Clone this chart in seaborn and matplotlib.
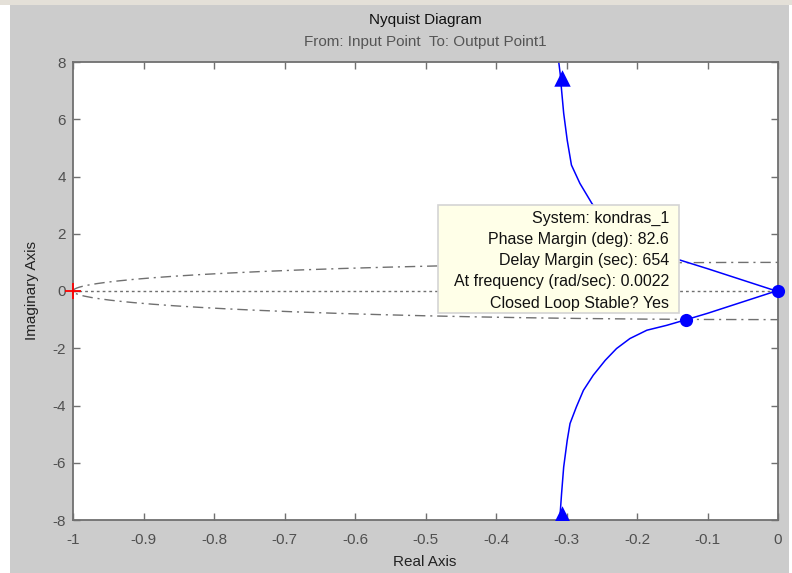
import numpy as np
import pandas as pd
import matplotlib
matplotlib.use("Agg")
import matplotlib.pyplot as plt
import matplotlib.patches as mpatches
import seaborn as sns

# ---- data ----
# upper branch (from top of the plot down to the origin)
upper_re = [-0.312, -0.309, -0.307, -0.304, -0.299, -0.293, -0.281, -0.264, -0.245, -0.229,
            -0.210, -0.186, -0.158, -0.139, -0.100, -0.050, -0.010, 0.0]
upper_im = [8.2, 7.60, 7.02, 6.21, 5.27, 4.40, 3.76, 3.06, 2.42, 2.01,
            1.66, 1.37, 1.20, 1.08, 0.78, 0.38, 0.06, 0.0]
# lower branch (from the origin down to the bottom)
lower_re = [0.0, -0.010, -0.050, -0.100, -0.130, -0.158, -0.186, -0.210, -0.229, -0.245,
            -0.262, -0.276, -0.286, -0.295, -0.299, -0.304, -0.307, -0.309, -0.310]
lower_im = [0.0, -0.06, -0.38, -0.78, -1.00, -1.20, -1.37, -1.66, -2.01, -2.42,
            -2.94, -3.47, -4.05, -4.63, -5.22, -6.15, -7.08, -7.78, -8.2]

arrow_re = [-0.307, -0.307]
arrow_im = [7.45, -7.78]
dot_re = [0.0, -0.130]
dot_im = [0.0, -1.00]

xticks = [-1, -0.9, -0.8, -0.7, -0.6, -0.5, -0.4, -0.3, -0.2, -0.1, 0]
xticklabels = ["-1", "-0.9", "-0.8", "-0.7", "-0.6", "-0.5", "-0.4", "-0.3", "-0.2", "-0.1", "0"]
yticks = [-8, -6, -4, -2, 0, 2, 4, 6, 8]

tip_lines = ["System: kondras_1",
             "Phase Margin (deg): 82.6",
             "Delay Margin (sec): 654",
             "At frequency (rad/sec): 0.0022",
             "Closed Loop Stable? Yes"]

sns.set_style("ticks")
plt.rcParams["font.family"] = ["Liberation Sans", "DejaVu Sans"]
plt.rcParams["font.size"] = 11
plt.rcParams["axes.unicode_minus"] = False

W, H = 792, 573
fig = plt.figure(figsize=(W / 100, H / 100), dpi=100, facecolor="white")

# grey window panel
fig.patches.append(mpatches.Rectangle((10 / W, 0), 779 / W, 1 - 5 / H, transform=fig.transFigure,
                                      facecolor="#cccccc", edgecolor="none", zorder=-10))
fig.patches.append(mpatches.Rectangle((0, 1 - 5 / H), 1, 5 / H, transform=fig.transFigure,
                                      facecolor="#e4e0d8", edgecolor="none", zorder=-10))

ax = fig.add_axes([73 / W, 1 - 520 / H, (778 - 73) / W, (520 - 62) / H])
ax.set_facecolor("white")

# unit circle (dash-dot) and real axis (dotted)
theta = np.linspace(0, 2 * np.pi, 400)
circ = pd.DataFrame({"re": np.cos(theta), "im": np.sin(theta)})
ax.plot(circ["re"], circ["im"], color="#707070", lw=1.0, dashes=(7.5, 3.5, 1.5, 3.5))
ax.axhline(0, color="#707070", lw=1.0, dashes=(2, 2.2))

up = pd.DataFrame({"re": upper_re, "im": upper_im})
lo = pd.DataFrame({"re": lower_re, "im": lower_im})
sns.lineplot(data=up, x="re", y="im", sort=False, color="#0000ff", lw=1.1, ax=ax)
sns.lineplot(data=lo, x="re", y="im", sort=False, color="#0000ff", lw=1.1, ax=ax)

sns.scatterplot(x=arrow_re, y=arrow_im, marker="^", s=140, color="#0000ff", edgecolor="#0000ff",
                linewidth=0, ax=ax, zorder=5)
sns.scatterplot(x=dot_re, y=dot_im, marker="o", s=90, color="#0000ff", edgecolor="#0000ff",
                linewidth=0, ax=ax, zorder=5, clip_on=False)
ax.plot([-1], [0], marker="+", color="red", ms=12, mew=1.3, clip_on=False, zorder=6)

ax.set_xlim(-1, 0)
ax.set_ylim(-8, 8)
ax.set_xticks(xticks)
ax.set_xticklabels(xticklabels)
ax.set_yticks(yticks)
ax.set_xlabel("")
ax.set_ylabel("")
ax.tick_params(direction="in", length=5, width=1, color="#707070", labelcolor="#505050",
               top=True, right=True, labelsize=11)
ax.tick_params(axis="x", pad=9)
ax.tick_params(axis="y", pad=5)
for sp in ax.spines.values():
    sp.set_color("#707070")
    sp.set_linewidth(1.3)
    sp.set_visible(True)

# titles and axis labels
fig.text(425 / W, 1 - 20 / H, "Nyquist Diagram", ha="center", va="center", color="#111111", fontsize=11)
fig.text(425 / W, 1 - 42 / H, "From: Input Point  To: Output Point1", ha="center", va="center",
         color="#555555", fontsize=11)
fig.text(425 / W, 1 - 562 / H, "Real Axis", ha="center", va="center", color="#222222", fontsize=11)
fig.text(32 / W, 1 - 290 / H, "Imaginary Axis", ha="center", va="center", rotation=90,
         color="#222222", fontsize=11)

# data tip box
fig.patches.append(mpatches.Rectangle((438 / W, 1 - 313 / H), (679 - 438) / W, (313 - 205) / H,
                                      transform=fig.transFigure, facecolor="#ffffe8",
                                      edgecolor="#d4d4d4", lw=1.2, zorder=10))
for i, line in enumerate(tip_lines):
    fig.text(669 / W, 1 - (218 + i * 21.3) / H, line, ha="right", va="center",
             color="#111111", fontsize=11.5, zorder=11)

fig.savefig("out.png", dpi=100, facecolor=fig.get_facecolor())
